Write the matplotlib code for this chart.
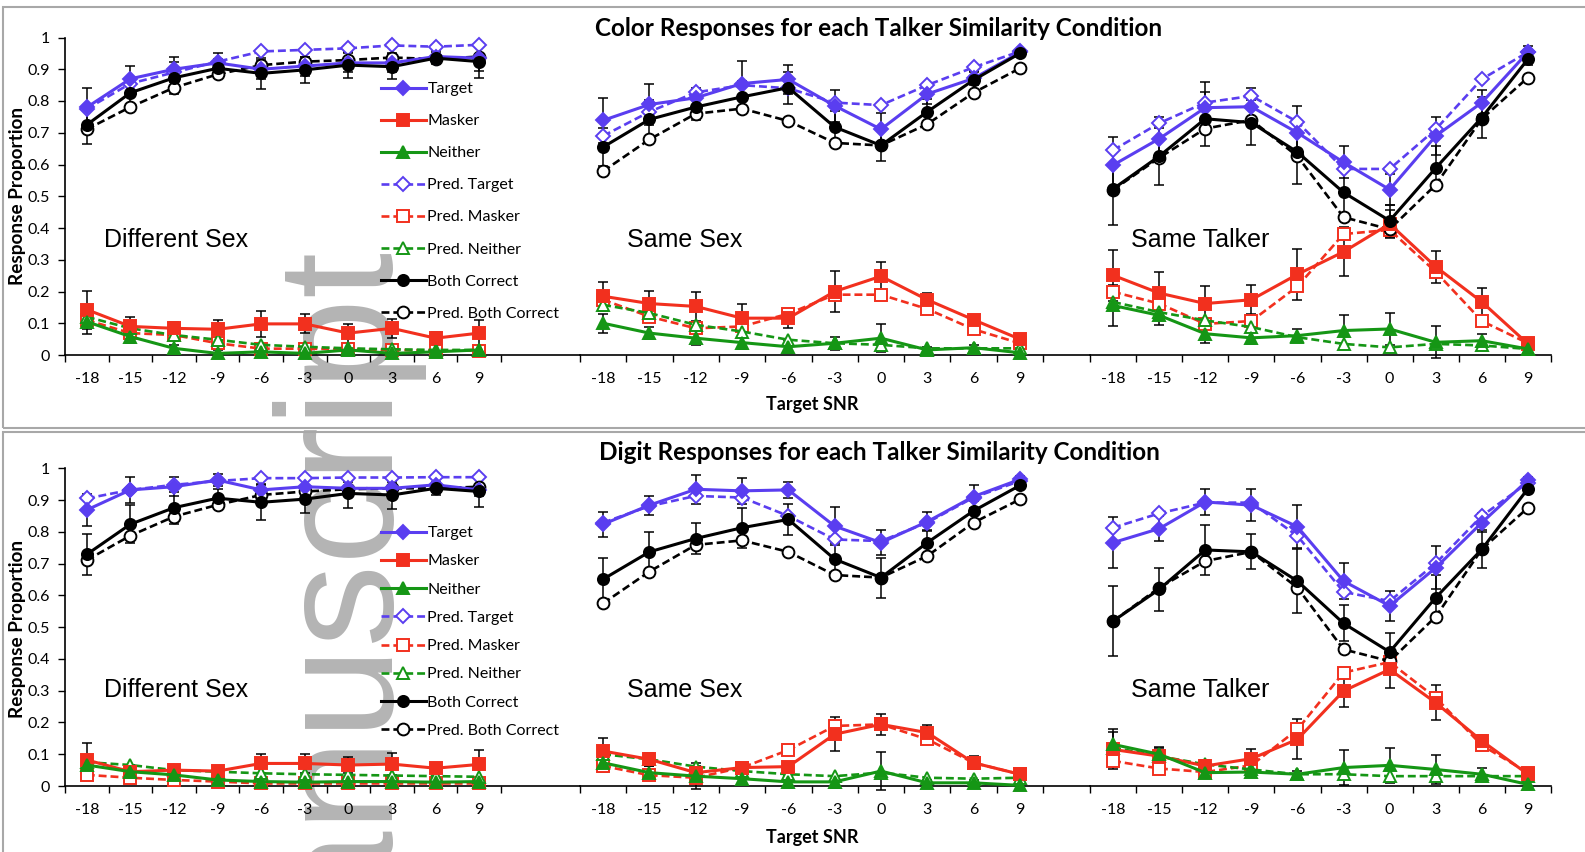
#! /usr/bin/env python

# Color / digit response proportions vs target SNR, three talker conditions each

import numpy as np
import matplotlib
matplotlib.use("Agg")
import matplotlib.pyplot as plt
from matplotlib.patches import Rectangle

W, H = 1585, 852

snr = [-18, -15, -12, -9, -6, -3, 0, 3, 6, 9]
conditions = ["Different Sex", "Same Sex", "Same Talker"]
series_names = ["Target", "Masker", "Neither", "Pred. Target", "Pred. Masker",
                "Pred. Neither", "Both Correct", "Pred. Both Correct"]

# ---------------- Color responses ----------------
# Different Sex
color_diff_target = [0.78, 0.87, 0.90, 0.92, 0.90, 0.91, 0.92, 0.92, 0.94, 0.935]
color_diff_masker = [0.143, 0.09, 0.084, 0.081, 0.098, 0.098, 0.069, 0.084, 0.053, 0.069]
color_diff_neither = [0.105, 0.058, 0.021, 0.005, 0.01, 0.005, 0.016, 0.005, 0.01, 0.016]
color_diff_ptarget = [0.775, 0.855, 0.89, 0.924, 0.956, 0.961, 0.966, 0.975, 0.971, 0.977]
color_diff_pmasker = [0.11, 0.069, 0.063, 0.037, 0.02, 0.02, 0.018, 0.016, 0.014, 0.014]
color_diff_pneither = [0.12, 0.084, 0.063, 0.048, 0.032, 0.026, 0.021, 0.018, 0.016, 0.016]
color_diff_both = [0.725, 0.826, 0.873, 0.903, 0.887, 0.898, 0.913, 0.908, 0.935, 0.924]
color_diff_pboth = [0.711, 0.781, 0.842, 0.884, 0.913, 0.924, 0.929, 0.937, 0.932, 0.94]
# Same Sex
color_ss_target = [0.739, 0.789, 0.81, 0.855, 0.868, 0.785, 0.711, 0.822, 0.871, 0.953]
color_ss_masker = [0.185, 0.162, 0.153, 0.116, 0.116, 0.2, 0.248, 0.174, 0.111, 0.05]
color_ss_neither = [0.1, 0.069, 0.053, 0.039, 0.026, 0.037, 0.053, 0.016, 0.023, 0.007]
color_ss_ptarget = [0.69, 0.766, 0.827, 0.85, 0.84, 0.795, 0.787, 0.85, 0.906, 0.956]
color_ss_pmasker = [0.174, 0.121, 0.084, 0.09, 0.13, 0.19, 0.19, 0.145, 0.081, 0.037]
color_ss_pneither = [0.158, 0.132, 0.095, 0.074, 0.048, 0.037, 0.032, 0.021, 0.021, 0.021]
color_ss_both = [0.655, 0.742, 0.781, 0.813, 0.842, 0.718, 0.66, 0.766, 0.866, 0.95]
color_ss_pboth = [0.579, 0.679, 0.76, 0.776, 0.737, 0.668, 0.66, 0.727, 0.826, 0.903]
# Same Talker
color_st_target = [0.598, 0.681, 0.779, 0.782, 0.70, 0.607, 0.521, 0.69, 0.795, 0.954]
color_st_masker = [0.251, 0.195, 0.162, 0.174, 0.254, 0.325, 0.413, 0.278, 0.167, 0.035]
color_st_neither = [0.156, 0.125, 0.067, 0.054, 0.061, 0.077, 0.082, 0.04, 0.045, 0.019]
color_st_ptarget = [0.645, 0.73, 0.795, 0.816, 0.734, 0.586, 0.586, 0.711, 0.869, 0.954]
color_st_pmasker = [0.199, 0.162, 0.098, 0.107, 0.216, 0.381, 0.394, 0.262, 0.107, 0.037]
color_st_pneither = [0.167, 0.135, 0.109, 0.088, 0.056, 0.035, 0.024, 0.035, 0.03, 0.019]
color_st_both = [0.523, 0.626, 0.744, 0.732, 0.639, 0.512, 0.423, 0.589, 0.748, 0.932]
color_st_pboth = [0.52, 0.621, 0.713, 0.74, 0.626, 0.434, 0.396, 0.536, 0.744, 0.874]

# ---------------- Digit responses ----------------
digit_diff_target = [0.869, 0.932, 0.942, 0.963, 0.932, 0.942, 0.937, 0.937, 0.948, 0.932]
digit_diff_masker = [0.082, 0.045, 0.05, 0.047, 0.071, 0.071, 0.066, 0.069, 0.056, 0.068]
digit_diff_neither = [0.066, 0.045, 0.035, 0.019, 0.014, 0.012, 0.014, 0.014, 0.012, 0.014]
digit_diff_ptarget = [0.905, 0.932, 0.948, 0.96, 0.969, 0.969, 0.971, 0.971, 0.972, 0.972]
digit_diff_pmasker = [0.035, 0.026, 0.019, 0.014, 0.008, 0.008, 0.008, 0.008, 0.008, 0.008]
digit_diff_pneither = [0.075, 0.066, 0.05, 0.045, 0.04, 0.037, 0.035, 0.033, 0.031, 0.029]
digit_diff_both = [0.729, 0.824, 0.876, 0.906, 0.893, 0.903, 0.921, 0.916, 0.937, 0.927]
digit_diff_pboth = [0.711, 0.788, 0.848, 0.885, 0.916, 0.927, 0.934, 0.937, 0.937, 0.942]
# Same Sex
digit_ss_target = [0.824, 0.884, 0.934, 0.929, 0.932, 0.818, 0.766, 0.832, 0.911, 0.965]
digit_ss_masker = [0.11, 0.084, 0.042, 0.058, 0.061, 0.163, 0.194, 0.168, 0.073, 0.037]
digit_ss_neither = [0.073, 0.042, 0.031, 0.023, 0.013, 0.013, 0.047, 0.01, 0.01, 0.002]
digit_ss_ptarget = [0.829, 0.881, 0.913, 0.908, 0.85, 0.776, 0.771, 0.829, 0.908, 0.96]
digit_ss_pmasker = [0.063, 0.034, 0.026, 0.058, 0.113, 0.189, 0.194, 0.147, 0.073, 0.037]
digit_ss_pneither = [0.1, 0.084, 0.061, 0.047, 0.037, 0.031, 0.042, 0.026, 0.023, 0.026]
digit_ss_both = [0.651, 0.737, 0.779, 0.813, 0.839, 0.714, 0.656, 0.766, 0.866, 0.946]
digit_ss_pboth = [0.575, 0.675, 0.759, 0.773, 0.737, 0.664, 0.656, 0.724, 0.829, 0.902]
# Same Talker
digit_st_target = [0.766, 0.81, 0.894, 0.884, 0.816, 0.645, 0.567, 0.687, 0.829, 0.963]
digit_st_masker = [0.115, 0.094, 0.063, 0.086, 0.147, 0.299, 0.367, 0.262, 0.142, 0.037]
digit_st_neither = [0.131, 0.1, 0.042, 0.044, 0.037, 0.058, 0.065, 0.052, 0.037, 0.005]
digit_st_ptarget = [0.813, 0.858, 0.892, 0.892, 0.787, 0.611, 0.582, 0.701, 0.85, 0.955]
digit_st_pmasker = [0.079, 0.055, 0.044, 0.065, 0.178, 0.357, 0.39, 0.278, 0.128, 0.042]
digit_st_pneither = [0.121, 0.094, 0.068, 0.052, 0.037, 0.037, 0.031, 0.031, 0.031, 0.031]
digit_st_both = [0.519, 0.619, 0.743, 0.737, 0.645, 0.512, 0.422, 0.593, 0.745, 0.936]
digit_st_pboth = [0.519, 0.624, 0.708, 0.737, 0.624, 0.43, 0.393, 0.533, 0.745, 0.876]

# error bars (observed series only): target, masker, neither, both correct
color_diff_err = [[0.06, 0.04, 0.04, 0.03, 0.03, 0.03, 0.03, 0.03, 0.02, 0.04],
                  [0.06, 0.03, 0.02, 0.03, 0.04, 0.03, 0.03, 0.03, 0.02, 0.04],
                  [0.04, 0.02, 0.01, 0.01, 0.01, 0.01, 0.01, 0.01, 0.01, 0.01],
                  [0.06, 0.04, 0.05, 0.03, 0.05, 0.04, 0.04, 0.04, 0.02, 0.05]]
color_ss_err = [[0.07, 0.065, 0.03, 0.07, 0.045, 0.05, 0.05, 0.03, 0.02, 0.01],
                [0.045, 0.04, 0.045, 0.045, 0.03, 0.065, 0.045, 0.02, 0.015, 0.01],
                [0.03, 0.02, 0.02, 0.02, 0.02, 0.02, 0.045, 0.01, 0.01, 0.01],
                [0.06, 0.06, 0.04, 0.05, 0.05, 0.05, 0.05, 0.04, 0.03, 0.01]]
color_st_err = [[0.09, 0.07, 0.08, 0.06, 0.085, 0.05, 0.05, 0.06, 0.04, 0.02],
                [0.08, 0.065, 0.055, 0.045, 0.08, 0.077, 0.045, 0.05, 0.045, 0.01],
                [0.065, 0.03, 0.03, 0.02, 0.02, 0.05, 0.05, 0.05, 0.02, 0.01],
                [0.115, 0.09, 0.085, 0.07, 0.1, 0.07, 0.05, 0.07, 0.065, 0.02]]
digit_diff_err = [[0.05, 0.04, 0.03, 0.02, 0.02, 0.02, 0.02, 0.02, 0.02, 0.02],
                  [0.052, 0.02, 0.015, 0.01, 0.03, 0.03, 0.025, 0.035, 0.01, 0.045],
                  [0.02, 0.01, 0.01, 0.01, 0.01, 0.01, 0.01, 0.01, 0.01, 0.01],
                  [0.065, 0.06, 0.05, 0.03, 0.055, 0.045, 0.045, 0.045, 0.02, 0.05]]
digit_ss_err = [[0.04, 0.03, 0.045, 0.04, 0.025, 0.06, 0.04, 0.03, 0.035, 0.01],
                [0.042, 0.02, 0.02, 0.01, 0.01, 0.053, 0.032, 0.025, 0.02, 0.01],
                [0.03, 0.02, 0.04, 0.02, 0.02, 0.02, 0.06, 0.01, 0.01, 0.01],
                [0.068, 0.063, 0.05, 0.063, 0.05, 0.05, 0.063, 0.04, 0.03, 0.01]]
digit_st_err = [[0.08, 0.04, 0.04, 0.05, 0.068, 0.056, 0.047, 0.068, 0.03, 0.01],
                [0.063, 0.03, 0.02, 0.03, 0.063, 0.05, 0.057, 0.055, 0.02, 0.01],
                [0.04, 0.02, 0.01, 0.015, 0.01, 0.055, 0.056, 0.045, 0.02, 0.01],
                [0.11, 0.068, 0.08, 0.055, 0.1, 0.057, 0.06, 0.07, 0.06, 0.01]]

color_panel = [
    [color_diff_target, color_diff_masker, color_diff_neither, color_diff_ptarget,
     color_diff_pmasker, color_diff_pneither, color_diff_both, color_diff_pboth],
    [color_ss_target, color_ss_masker, color_ss_neither, color_ss_ptarget,
     color_ss_pmasker, color_ss_pneither, color_ss_both, color_ss_pboth],
    [color_st_target, color_st_masker, color_st_neither, color_st_ptarget,
     color_st_pmasker, color_st_pneither, color_st_both, color_st_pboth],
]
digit_panel = [
    [digit_diff_target, digit_diff_masker, digit_diff_neither, digit_diff_ptarget,
     digit_diff_pmasker, digit_diff_pneither, digit_diff_both, digit_diff_pboth],
    [digit_ss_target, digit_ss_masker, digit_ss_neither, digit_ss_ptarget,
     digit_ss_pmasker, digit_ss_pneither, digit_ss_both, digit_ss_pboth],
    [digit_st_target, digit_st_masker, digit_st_neither, digit_st_ptarget,
     digit_st_pmasker, digit_st_pneither, digit_st_both, digit_st_pboth],
]
color_errs = [color_diff_err, color_ss_err, color_st_err]
digit_errs = [digit_diff_err, digit_ss_err, digit_st_err]

BLUE = "#5a3ef0"
RED = "#f2301e"
GREEN = "#159615"
BLACK = "#000000"

# style per series: color, marker, linestyle, filled, markersize
styles = [
    (BLUE, "D", "-", True, 7.5),
    (RED, "s", "-", True, 9),
    (GREEN, "^", "-", True, 8.5),
    (BLUE, "D", "--", False, 7.5),
    (RED, "s", "--", False, 8.5),
    (GREEN, "^", "--", False, 8),
    (BLACK, "o", "-", True, 8),
    (BLACK, "o", "--", False, 8.5),
]
draw_order = [3, 4, 5, 7, 0, 1, 2, 6]
err_index = {0: 0, 1: 1, 2: 2, 6: 3}   # series -> row of error table

TICKFONT = "Lato"
LABELFONT = "Liberation Sans"


def fx(px):
    return px / W


def fy(py):
    return 1 - py / H


def draw_panel(fig, zero_px, one_px, data, errs, title, title_y, xlab_y,
               ylab_y, cond_y, legend_top, legend_spacing):
    # horizontal layout of the three Excel-like charts (pixels)
    spans = [(65, 580, 43.6), (580, 1090, 46.3), (1090, 1551, 46.1)]
    handles = []
    for ci, (x0, x1, cw) in enumerate(spans):
        ax = fig.add_axes([fx(x0), fy(zero_px), (x1 - x0) / W,
                           (zero_px - one_px) / H])
        ax.set_ylim(0, 1)
        ax.set_xlim(-0.5, -0.5 + (x1 - x0) / cw)
        x = np.arange(len(snr))
        for si, ei in err_index.items():
            ax.errorbar(x, data[ci][si], yerr=errs[ci][ei], fmt="none",
                        ecolor="black", elinewidth=1.1, capsize=3.5,
                        capthick=1.1, zorder=2, clip_on=False)
        lines = {}
        for si in draw_order:
            col, mk, ls, filled, ms = styles[si]
            ln, = ax.plot(x, data[ci][si], color=col, marker=mk,
                          linestyle=ls, lw=2.2 if ls == "-" else 1.9,
                          markersize=ms,
                          markerfacecolor=col if filled else "white",
                          markeredgecolor=col, markeredgewidth=1.4,
                          label=series_names[si], clip_on=False, zorder=3)
            if ls == "--":
                ln.set_dashes((3, 1.5))
            lines[si] = ln
        if ci == 0:
            handles = [lines[i] for i in range(8)]

        for sp in ["top", "right"]:
            ax.spines[sp].set_visible(False)
        ax.spines["bottom"].set_linewidth(1.2)
        ax.set_xticks(np.arange(-0.5, 10, 1))
        ax.set_xticklabels([])
        ax.set_xticks(x, minor=True)
        ax.set_xticklabels([str(s) for s in snr], minor=True,
                           fontsize=11.5, family=TICKFONT)
        ax.tick_params(axis="x", which="major", length=5, width=1.0,
                       direction="out")
        ax.tick_params(axis="x", which="minor", length=0, pad=12)
        if ci == 0:
            ax.spines["left"].set_linewidth(1.2)
            ax.set_yticks(np.arange(0, 1.01, 0.1))
            ax.set_yticklabels(["0"] + ["%.1f" % v for v in np.arange(0.1, 0.95, 0.1)] + ["1"],
                               fontsize=11.5, family=TICKFONT)
            ax.tick_params(axis="y", length=5, width=1.0, direction="out", pad=6)
        else:
            ax.spines["left"].set_visible(False)
            ax.set_yticks([])
        ax.patch.set_alpha(0)

    # condition labels
    for (px, name) in zip([104, 627, 1131], conditions):
        fig.text(fx(px), fy(cond_y), name, fontsize=18, family=LABELFONT,
                 ha="left", va="center")

    fig.legend(handles=handles, loc="upper left",
               bbox_to_anchor=(fx(381), fy(legend_top)),
               frameon=False, handlelength=2.8,
               handletextpad=0.1, labelspacing=legend_spacing,
               borderpad=0, borderaxespad=0,
               prop={"family": TICKFONT, "size": 11.5})

    fig.text(fx(879), fy(title_y), title, fontsize=17.5, fontweight="bold",
             family=TICKFONT, ha="center", va="center")
    fig.text(fx(812), fy(xlab_y), "Target SNR", fontsize=13,
             fontweight="bold", family=TICKFONT, ha="center", va="center")
    fig.text(fx(18), fy(ylab_y), "Response Proportion", fontsize=13.7,
             fontweight="bold", family=TICKFONT, ha="center", va="center",
             rotation=90)


fig = plt.figure(figsize=(W / 100, H / 100), dpi=100)

# panel frames
fig.patches.append(Rectangle((fx(3), fy(428)), (W + 10) / W, (428 - 7) / H,
                             transform=fig.transFigure, fill=False,
                             edgecolor="#a8a8a8", lw=1.5))
fig.patches.append(Rectangle((fx(3), fy(H + 10)), (W + 10) / W, (H + 10 - 432) / H,
                             transform=fig.transFigure, fill=False,
                             edgecolor="#a8a8a8", lw=1.5))

# NIH "Author Manuscript" watermark, sitting underneath the charts
fig.text(fx(393), fy(252), "Author Manuscript", rotation=90,
         rotation_mode="anchor", ha="right", va="baseline", fontsize=119,
         family=LABELFONT, color="#b4b4b4", zorder=-1)

draw_panel(fig, 355, 37.5, color_panel, color_errs,
           "Color Responses for each Talker Similarity Condition",
           28, 405, 196, 240, 82, 1.12)
draw_panel(fig, 786, 468.3, digit_panel, digit_errs,
           "Digit Responses for each Talker Similarity Condition",
           453, 838, 629, 690, 526, 0.88)

fig.savefig("out.png", dpi=100)
